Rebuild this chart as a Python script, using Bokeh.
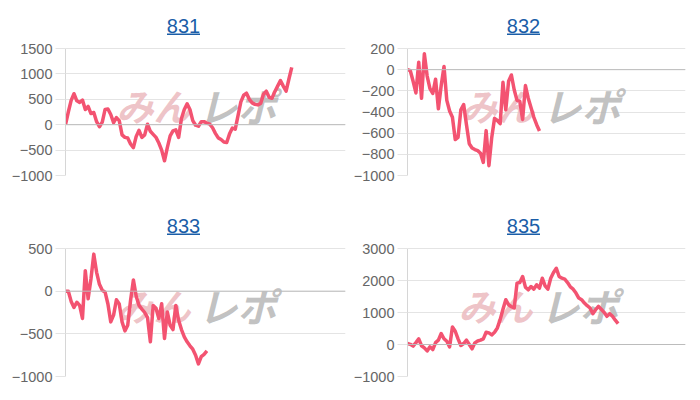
from bokeh.plotting import figure
from bokeh.models import Label, Span, FixedTicker, Range1d, BoxAnnotation
from bokeh.layouts import column, row
from bokeh.embed import file_html
from bokeh.resources import INLINE

# ---- data ----
titles = ["831", "832", "833", "835"]
n_slots = 100

s831 = [0, 250, 480, 610, 470, 440, 484, 300, 360, 220,
        240, 60, -40, 50, 300, 310, 200, 40, 140, 80,
        -200, -250, -260, -380, -450, -230, -110, -250, -200, 10,
        -130, -190, -250, -360, -500, -710, -450, -220, -120, -100,
        -250, 120, 300, 410, 300, 80, -10, -30, 60, 60,
        30, 10, -60, -170, -260, -290, -340, -350, -180, -65,
        -90, 180, 450, 580, 620, 500, 430, 400, 390, 420,
        600, 660, 540, 520, 650, 760, 870, 760, 660, 900,
        1130]

s832 = [0, -10, -110, -220, 70, -270, 150, -60, -180, -225,
        -90, -370, -150, 30, -290, -390, -450, -660, -640, -380,
        -330, -520, -700, -740, -755, -765, -790, -876, -576, -907,
        -640, -460, -480, -510, -120, -380, -110, -50, -190, -290,
        -300, -470, -150, -270, -360, -450, -520, -580]

s833 = [0, 0, -120, -190, -130, -167, -320, 240, -90, 143,
        434, 221, 80, 10, -12, -150, -360, -280, -100, -150,
        -360, -465, -399, -109, 132, -60, -167, -210, -250, -310,
        -593, -167, -200, -320, -147, -554, -244, -400, -450, -167,
        -341, -450, -535, -593, -640, -680, -750, -853, -767, -740,
        -700]

s835 = [31, 5, -50, 60, 176, -40, -104, -200, -73, -160,
        60, 135, 342, 180, 100, -73, 549, 414, 176, -31,
        31, 135, 0, -135, 52, 110, 135, 176, 383, 362,
        300, 383, 518, 777, 1100, 1399, 1243, 1180, 1140, 1917,
        1937, 2124, 1792, 1709, 1813, 1730, 1865, 1761, 2072, 1834,
        1730, 2072, 2250, 2383, 2124, 2072, 2041, 1937, 1800, 1730,
        1606, 1450, 1399, 1295, 1212, 1140, 963, 1088, 1191, 1100,
        1005, 881, 963, 880, 760, 653]

y_limits = [(-1000, 1500), (-1000, 200), (-1000, 500), (-1000, 3000)]
y_ticks = [[-1000, -500, 0, 500, 1000, 1500],
           [-1000, -800, -600, -400, -200, 0, 200],
           [-1000, -500, 0, 500],
           [-1000, 0, 1000, 2000, 3000]]
series = [s831, s832, s833, s835]

LINE = "#f35371"
GRID = "#e4e4e4"
ZERO = "#bcbcbc"
TITLE_C = "#1a5ea8"
FONT = "Liberation Sans"
TOP_PAD = 48  # px of headroom above the data area (holds the title)


def panel(idx, width, height, b_left, b_bottom, title_x, wm_x):
    lo, hi = y_limits[idx]
    data_px = height - TOP_PAD - b_bottom
    hi_ext = hi + (hi - lo) * TOP_PAD / data_px
    p = figure(width=width, height=height, output_backend="svg",
               toolbar_location=None, tools="",
               x_range=Range1d(0, n_slots - 1), y_range=Range1d(lo, hi_ext),
               min_border_left=b_left, min_border_right=width - b_left - 280,
               min_border_top=0, min_border_bottom=b_bottom)
    p.outline_line_color = None
    p.background_fill_color = "white"
    p.border_fill_color = "white"
    p.xaxis.visible = False
    p.xgrid.visible = False
    p.ygrid.ticker = FixedTicker(ticks=y_ticks[idx])
    p.ygrid.grid_line_color = GRID
    p.ygrid.grid_line_width = 1
    ax = p.yaxis[0]
    ax.ticker = FixedTicker(ticks=y_ticks[idx])
    ax.bounds = (lo, hi)
    ax.axis_line_color = "#d6d6d6"
    ax.major_tick_out = 10
    ax.major_tick_in = 0
    ax.minor_tick_out = 0
    ax.minor_tick_in = 0
    ax.major_tick_line_color = GRID
    ax.major_label_standoff = 3
    ax.major_label_text_font = FONT
    ax.major_label_text_font_size = "14.5px"
    ax.major_label_text_color = "#666666"

    p.add_layout(Span(location=0, dimension="width", line_color=ZERO, line_width=1))

    # watermark
    p.add_layout(Label(x=wm_x, y=104, x_units="canvas", y_units="canvas",
                       text="みん", text_font="Noto Sans CJK JP", text_font_style="bold italic",
                       text_font_size="37px", text_color="#ecbcc1", text_alpha=0.9,
                       text_baseline="middle", text_align="left", level="underlay"))
    p.add_layout(Label(x=wm_x + 82, y=104, x_units="canvas", y_units="canvas",
                       text="レポ", text_font="Noto Sans CJK JP", text_font_style="bold italic",
                       text_font_size="39px", text_color="#bababa", text_alpha=0.9,
                       text_baseline="middle", text_align="left", level="underlay"))

    xs = list(range(len(series[idx])))
    p.line(xs, series[idx], line_color=LINE, line_width=3.5, line_join="round")

    # title with underline
    p.add_layout(Label(x=title_x, y=25, x_units="canvas", y_units="canvas",
                       text=titles[idx], text_font=FONT, text_font_size="20px",
                       text_color=TITLE_C, text_align="center", text_baseline="middle"))
    p.add_layout(BoxAnnotation(left=title_x - 16.5, right=title_x + 16.5, top=33, bottom=34.5,
                               left_units="canvas", right_units="canvas",
                               top_units="canvas", bottom_units="canvas",
                               fill_color=TITLE_C, fill_alpha=1, line_color=None))
    return p


p1 = panel(0, 350, 200, 65, 25, 183, 116)
p2 = panel(1, 345, 200, 55, 25, 173, 110)
p3 = panel(2, 350, 200, 65, 24, 183, 116)
p4 = panel(3, 345, 200, 55, 24, 173, 108)

layout = column(row(p1, p2), row(p3, p4))

with open("out.html", "w") as f:
    f.write(file_html(layout, INLINE))
